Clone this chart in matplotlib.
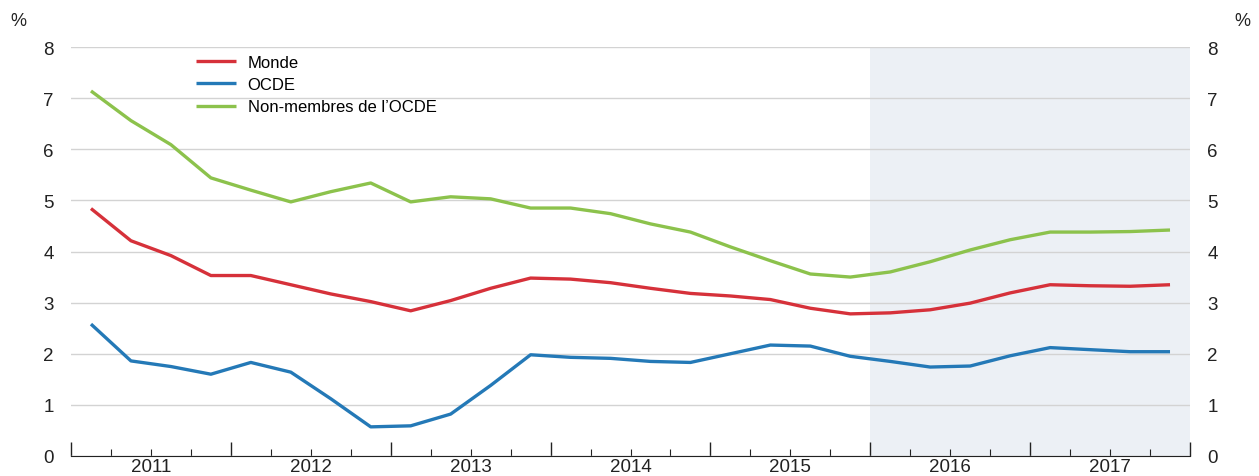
import numpy as np
import matplotlib.pyplot as plt

plt.rcParams['font.family'] = ['Liberation Sans', 'DejaVu Sans']

years = list(range(2011, 2018))
# quarterly values, 2011 Q1 .. 2017 Q4
monde = [4.84, 4.21, 3.92, 3.53, 3.53, 3.35, 3.17, 3.02,
         2.84, 3.04, 3.28, 3.48, 3.46, 3.39, 3.28, 3.18,
         3.13, 3.06, 2.89, 2.78, 2.80, 2.86, 2.99, 3.19,
         3.35, 3.33, 3.32, 3.35]
ocde = [2.58, 1.86, 1.75, 1.60, 1.83, 1.64, 1.12, 0.57,
        0.59, 0.82, 1.38, 1.98, 1.93, 1.91, 1.85, 1.83,
        2.00, 2.17, 2.15, 1.95, 1.85, 1.74, 1.76, 1.96,
        2.12, 2.08, 2.04, 2.04]
non_ocde = [7.14, 6.56, 6.09, 5.44, 5.20, 4.97, 5.17, 5.34,
            4.97, 5.07, 5.03, 4.85, 4.85, 4.74, 4.54, 4.38,
            4.09, 3.82, 3.56, 3.50, 3.60, 3.80, 4.03, 4.23,
            4.38, 4.38, 4.39, 4.42]
series = [('Monde', monde, '#d6313a'),
          ('OCDE', ocde, '#2479b7'),
          ("Non-membres de l\u2019OCDE", non_ocde, '#8cc24c')]
proj_start = 2016

x = np.array([y + (q + 0.5) / 4 for y in years for q in range(4)])

fig = plt.figure(figsize=(12.59, 4.77), dpi=100)
ax = fig.add_axes([71 / 1259, 20 / 477, (1190 - 71) / 1259, (457 - 48) / 477])

ax.axvspan(proj_start, years[-1] + 1, color='#ecf0f5', zorder=0, lw=0)
for label, vals, col in series:
    ax.plot(x, vals, color=col, lw=2.4, label=label, zorder=3, solid_capstyle='butt')

ax.set_xlim(years[0], years[-1] + 1)
ax.set_ylim(0, 8)
ax.set_yticks(range(0, 9))
ax.yaxis.grid(True, color='#d3d3d3', lw=1)
ax.set_axisbelow(True)
for s in ['left', 'right', 'top']:
    ax.spines[s].set_visible(False)
ax.spines['bottom'].set_color('#222222')

ax.set_xticks(range(years[0], years[-1] + 2))
ax.set_xticklabels([])
minor = [y + q / 4 for y in years for q in (1, 2, 3)]
ax.set_xticks(minor, minor=True)
ax.set_xticklabels([str(int(m - 0.5)) if q == 2 else '' for m, q in
                    zip(minor, [1, 2, 3] * len(years))], minor=True)
ax.tick_params(axis='x', which='major', direction='in', length=10, width=1, color='#222222')
ax.tick_params(axis='x', which='minor', direction='in', length=5, width=0.8,
               color='#222222', labelsize=13.5, pad=1.5, labelcolor='#222222')
ax.tick_params(axis='y', left=False, right=False, labelleft=True, labelright=True,
               labelsize=13.5, pad=9, labelcolor='#222222')

fig.text(18 / 1259, 1 - 22 / 477, '%', fontsize=13, ha='center', va='center', color='#222222')
fig.text(1242 / 1259, 1 - 22 / 477, '%', fontsize=13, ha='center', va='center', color='#222222')

ax.legend(loc='upper left', bbox_to_anchor=(0.105, 1.0), frameon=False, fontsize=12,
          handlelength=2.4, handletextpad=0.7, labelspacing=0.45, borderaxespad=0.05)

fig.savefig('out.png', dpi=100)
